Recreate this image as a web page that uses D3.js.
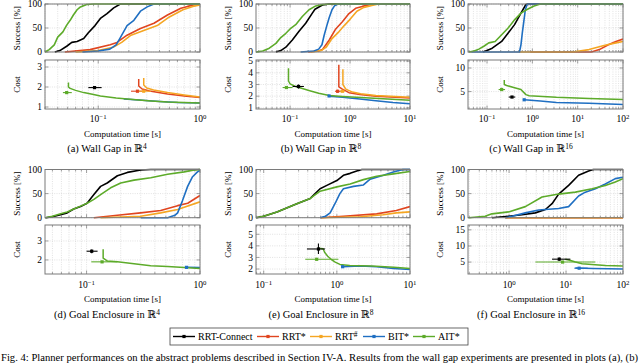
<!DOCTYPE html>
<html>
<head>
<meta charset="utf-8">
<script src="https://cdn.jsdelivr.net/npm/d3@7"></script>
<style>
  body { margin: 0; background: #fff; }
  svg { font-family: "Liberation Serif", "DejaVu Serif", serif; }
</style>
</head>
<body>
<svg id="fig" width="640" height="363"></svg>
<script>
// planners, in legend order
var planners = ["RRT-Connect", "RRT*", "RRT#", "BIT*", "AIT*"];
var colors = ["#000000", "#e0451f", "#f5a623", "#1f6fc2", "#5dab2a"];

// success curves [time s, success %], one list per planner (same order as planners)
var succA = [
  [[0.0375,0],[0.042,3],[0.049,12],[0.055,20],[0.062,22],[0.072,28],[0.08,40],[0.093,55],[0.105,70],[0.122,80],[0.142,92],[0.165,100],[1,100]],
  [[0.047,0],[0.083,5],[0.131,15],[0.153,20],[0.192,35],[0.26,49],[0.353,60],[0.479,77],[0.649,91],[0.755,95],[0.95,100],[1,100]],
  [[0.06,0],[0.1,3],[0.14,10],[0.17,20],[0.21,35],[0.28,45],[0.38,55],[0.5,73],[0.68,88],[0.85,95],[1,98]],
  [[0.07,0],[0.1,2],[0.13,6],[0.15,15],[0.165,30],[0.192,55],[0.224,66],[0.26,85],[0.303,94],[0.353,100],[1,100]],
  [[0.03,0],[0.033,5],[0.037,15],[0.04,31],[0.045,42],[0.049,56],[0.053,66],[0.057,77],[0.062,88],[0.066,93],[0.077,99],[0.09,100],[1,100]]
];
var succB = [
  [[0.058,0],[0.07,3],[0.085,10],[0.109,25],[0.141,43],[0.182,60],[0.235,81],[0.26,89],[0.346,98],[0.45,100],[10,100]],
  [[0.2,0],[0.3,2],[0.346,5],[0.45,25],[0.577,48],[0.745,63],[0.96,80],[1.24,91],[1.6,95],[2.35,100],[10,100]],
  [[0.22,0],[0.33,3],[0.4,10],[0.5,28],[0.65,42],[0.8,55],[1.0,68],[1.3,85],[1.7,93],[2.5,98],[3,100],[10,100]],
  [[0.15,0],[0.25,2],[0.3,6],[0.34,15],[0.37,35],[0.41,55],[0.45,72],[0.5,88],[0.55,96],[0.62,100],[10,100]],
  [[0.027,0],[0.035,2],[0.045,8],[0.058,18],[0.07,30],[0.085,39],[0.1,48],[0.124,57],[0.16,74],[0.207,88],[0.268,96],[0.346,99],[0.5,100],[10,100]]
];
var succC = [
  [[0.081,0],[0.1,3],[0.13,8],[0.21,22],[0.29,39],[0.405,57],[0.56,81],[0.72,99],[0.8,100],[100,100]],
  [[0.9,0],[20,0],[30,5],[47.6,15],[70,22],[100,27]],
  [[0.5,0],[7.8,0],[17.8,5],[40,14],[70,19],[100,22]],
  [[0.045,0],[0.52,0],[0.56,15],[0.6,40],[0.65,65],[0.7,88],[0.75,97],[0.8,100],[100,100]],
  [[0.04,0],[0.052,2],[0.066,6],[0.085,12],[0.109,19],[0.151,22],[0.21,36],[0.292,50],[0.405,67],[0.56,81],[0.78,89],[1.09,96],[1.5,100],[100,100]]
];
var succD = [
  [[0.0434,0],[0.05,2],[0.059,6],[0.0675,10],[0.077,18],[0.0885,23],[0.101,30],[0.116,48],[0.133,65],[0.152,72],[0.187,87],[0.229,94],[0.3,99],[0.368,100],[1,100]],
  [[0.116,0],[0.187,5],[0.3,10],[0.45,15],[0.635,25],[0.78,30],[1,46]],
  [[0.133,0],[0.3,3],[0.45,10],[0.635,17],[1,33]],
  [[0.3,0],[0.518,0],[0.6,5],[0.635,10],[0.7,35],[0.778,65],[0.86,85],[0.95,95],[1,98]],
  [[0.0434,0],[0.05,3],[0.059,8],[0.0675,12],[0.077,18],[0.0885,24],[0.101,30],[0.116,38],[0.133,48],[0.163,62],[0.2,72],[0.262,78],[0.368,83],[0.518,90],[0.726,95],[0.89,99],[1,100]]
];
var succE = [
  [[0.079,0],[0.1,3],[0.152,12],[0.284,29],[0.433,40],[0.59,60],[0.73,67],[1,77],[1.23,88],[1.52,92],[1.87,97],[2.2,100],[10,100]],
  [[0.6,0],[1.23,3],[3.5,8],[6.5,15],[10,23]],
  [[0.6,0],[2.1,2],[4.3,6],[6.5,10],[10,12]],
  [[0.59,0],[0.7,3],[0.81,10],[0.95,30],[1.1,50],[1.23,60],[1.69,65],[2.31,68],[2.85,80],[4.33,88],[5.93,95],[8,100],[10,100]],
  [[0.079,0],[0.1,3],[0.152,12],[0.284,29],[0.433,40],[0.59,55],[1,64],[1.52,70],[2.31,79],[3.5,86],[5.93,91],[10,96]]
];
var succF = [
  [[0.5,0],[0.98,3],[1.69,6],[2.89,10],[4.34,17],[5.68,29],[7.42,49],[11.1,67],[16.6,88],[24.9,97],[30,100],[100,100]],
  [[0.86,0],[100,0]],
  [[0.86,0],[100,0]],
  [[0.86,0],[1.13,3],[1.93,10],[3.31,16],[7.42,19],[11.1,23],[16.6,45],[21.8,53],[32.7,60],[48.9,70],[73.3,81],[100,84]],
  [[0.195,0],[0.38,3],[0.5,8],[0.98,12],[1.93,23],[3.79,43],[7.42,49],[14.6,53],[28.6,60],[48.9,67],[73.3,74],[100,81]]
];

// median cost curves [time s, cost]
var costA = [null,
  [[0.25,2.4],[0.25,2.05],[0.27,1.9],[0.32,1.8],[0.48,1.65],[0.7,1.55],[1,1.47]],
  [[0.28,2.45],[0.28,2.1],[0.3,1.95],[0.35,1.85],[0.48,1.72],[0.7,1.6],[1,1.5]],
  [[0.178,1.4],[0.25,1.35],[0.4,1.28],[0.6,1.23],[1,1.2]],
  [[0.051,2.22],[0.051,2.0],[0.053,1.93],[0.06,1.83],[0.072,1.72],[0.09,1.62],[0.105,1.55],[0.15,1.45],[0.22,1.37],[0.33,1.3],[0.48,1.25],[1,1.2]]
];
var costB = [null,
  [[0.65,4.7],[0.65,2.8],[0.745,2.6],[0.96,2.3],[1.45,2.15],[2.7,2.0],[10,1.85]],
  [[0.76,4.3],[0.76,3.0],[0.85,2.6],[1.1,2.35],[1.5,2.2],[2.7,2.05],[10,1.9]],
  [[0.447,2.0],[0.745,1.9],[1.45,1.75],[2.7,1.6],[5.2,1.45],[10,1.35]],
  [[0.094,4.4],[0.094,3.3],[0.1,3.05],[0.12,2.85],[0.16,2.65],[0.22,2.45],[0.3,2.25],[0.45,2.05],[0.75,1.97],[1.5,1.88],[3,1.8],[10,1.65]]
];
var costC = [null, null, null,
  [[0.66,3.26],[1.5,3.0],[3.4,2.7],[17.8,2.5],[100,2.25]],
  [[0.24,7.46],[0.24,6.5],[0.27,6.3],[0.405,5.8],[0.56,5.43],[0.72,4.35],[0.85,4.13],[3.4,3.77],[17.8,3.55],[100,3.33]]
];
var costD = [null, null, null,
  [[0.76,1.61],[1,1.6]],
  [[0.14,2.56],[0.14,2.09],[0.152,1.95],[0.187,1.9],[0.262,1.8],[0.368,1.7],[0.518,1.65],[0.726,1.6],[1,1.55]]
];
var costE = [null, null, null,
  [[1.2,2.2],[2.1,2.25],[3.5,2.2],[5.93,2.05],[10,1.95]],
  [[0.56,3.8],[0.65,3.75],[0.68,3.45],[0.75,3.1],[0.85,2.8],[0.95,2.6],[1.1,2.4],[1.5,2.3],[3,2.25],[6,2.15],[10,2.05]]
];
var costF = [null, null, null,
  [[14.6,3.15],[30,3.0],[100,2.85]],
  [[9.7,5.9],[12,5.5],[14.6,5.0],[19.2,4.5],[32.7,4.17],[48.9,3.9],[100,3.8]]
];

// initial solutions [time, time lo, time hi, cost, cost lo, cost hi]
var initA = [[0.092,0.08,0.108,1.97,1.9,2.05],[0.243,0.21,0.27,1.79,1.75,1.83],[0.28,0.25,0.33,1.79,1.75,1.83],null,[0.049,0.045,0.055,1.72,1.68,1.76]];
var initB = [[0.138,0.11,0.17,2.83,2.65,3.0],[0.62,0.56,0.7,2.42,2.3,2.55],[0.745,0.68,0.82,2.42,2.35,2.5],[0.447,0.43,0.47,2.02,1.95,2.1],[0.087,0.075,0.11,2.74,2.68,2.8]];
var initC = [[0.355,0.3,0.42,3.84,3.7,4.0],null,null,[0.66,0.64,0.69,3.26,3.1,3.4],[0.21,0.18,0.25,5.43,5.2,5.8]];
var initD = [[0.111,0.1,0.125,2.46,2.35,2.55],null,null,[0.76,0.74,0.79,1.61,1.57,1.65],[0.137,0.11,0.187,1.9,1.86,1.94]];
var initE = [[0.56,0.39,0.69,3.73,3.3,4.2],null,null,[1.2,1.15,1.25,2.2,2.15,2.25],[0.53,0.37,1.05,2.84,2.75,2.95]];
var initF = [[7.6,5.68,11.9,5.9,5.4,6.4],null,null,[17,14,24,3.1,3.0,3.2],[8.7,2.9,32.7,5.0,4.8,5.2]];

var captions = ["Wall Gap", "Wall Gap", "Wall Gap", "Goal Enclosure", "Goal Enclosure", "Goal Enclosure"];
var dims = ["4", "8", "16", "4", "8", "16"];

var panels = [
  { id: "a", succ: succA, cost: costA, init: initA, xdom: [0.03, 1],    cdom: [0.9, 3.35],  cticks: [1, 2, 3],       col: 0, row: 0 },
  { id: "b", succ: succB, cost: costB, init: initB, xdom: [0.027, 10],  cdom: [0.9, 5.1],   cticks: [1, 2, 3, 4, 5], col: 1, row: 0 },
  { id: "c", succ: succC, cost: costC, init: initC, xdom: [0.038, 100], cdom: [1.3, 11.7],  cticks: [5, 10],         col: 2, row: 0 },
  { id: "d", succ: succD, cost: costD, init: initD, xdom: [0.043, 1],   cdom: [1.26, 3.84], cticks: [2, 3],          col: 0, row: 1 },
  { id: "e", succ: succE, cost: costE, init: initE, xdom: [0.0785, 10], cdom: [1.57, 5.8],  cticks: [2, 3, 4, 5],    col: 1, row: 1 },
  { id: "f", succ: succF, cost: costF, init: initF, xdom: [0.19, 100],  cdom: [1.3, 16.5],  cticks: [5, 10, 15],     col: 2, row: 1 }
];

var cols = [
  { x0: 45, x1: 200, ylab: 17, cap: 107 },
  { x0: 256, x1: 410, ylab: 228, cap: 321 },
  { x0: 468, x1: 623, ylab: 440, cap: 531 }
];
var rows = [
  { s0: 4, s1: 52, c0: 60, c1: 109, tick: 122, xlab: 137, cap: 152 },
  { s0: 169.5, s1: 217.7, c0: 225, c1: 274, tick: 287.5, xlab: 301.5, cap: 318 }
];

var svg = d3.select("#fig");
var frameCol = "#7a7a7a";

function supText(sel, base, sup, size) {
  sel.append("tspan").text(base);
  sel.append("tspan").attr("dy", "-0.42em").attr("font-size", size).text(sup);
}

// frame, grid and ticks of one plot box
function drawBox(g, x, y, yTicks, top, bottom, withLabels, tickY) {
  var d = x.domain(), x0 = x.range()[0], x1 = x.range()[1];
  var major = [], minor = [];
  for (var e = Math.floor(Math.log10(d[0])); e <= Math.ceil(Math.log10(d[1])); e++) {
    for (var k = 1; k <= 9; k++) {
      var v = k * Math.pow(10, e);
      if (v >= d[0] * 0.999 && v <= d[1] * 1.001) (k === 1 ? major : minor).push(v);
    }
  }
  var grid = g.append("g").attr("stroke", "#cfcfcf").attr("stroke-width", 0.6).attr("stroke-dasharray", "1,1.3");
  grid.selectAll(null).data(major.concat(minor)).join("line")
    .attr("x1", x).attr("x2", x).attr("y1", top).attr("y2", bottom);
  grid.selectAll(null).data(yTicks).join("line")
    .attr("x1", x0).attr("x2", x1).attr("y1", y).attr("y2", y);

  var tk = g.append("g").attr("stroke", frameCol).attr("stroke-width", 0.7);
  [[major, 3.5], [minor, 2]].forEach(function (m) {
    tk.selectAll(null).data(m[0]).join("line")
      .attr("x1", x).attr("x2", x).attr("y1", bottom).attr("y2", bottom - m[1]);
    tk.selectAll(null).data(m[0]).join("line")
      .attr("x1", x).attr("x2", x).attr("y1", top).attr("y2", top + m[1]);
  });
  tk.selectAll(null).data(yTicks).join("line")
    .attr("x1", x0).attr("x2", x0 + 3.5).attr("y1", y).attr("y2", y);
  tk.selectAll(null).data(yTicks).join("line")
    .attr("x1", x1).attr("x2", x1 - 3.5).attr("y1", y).attr("y2", y);

  g.append("g").attr("font-size", 9.5).attr("text-anchor", "end")
    .selectAll(null).data(yTicks).join("text")
    .attr("x", x0 - 3).attr("y", function (v) { return y(v) + 3.3; })
    .text(function (v) { return v; });

  if (withLabels) {
    major.forEach(function (v) {
      var e = Math.round(Math.log10(v));
      var t = g.append("text").attr("font-size", 9.5).attr("text-anchor", "middle")
        .attr("x", x(v)).attr("y", tickY);
      supText(t, "10", e < 0 ? "\u2212" + (-e) : String(e), 6.8);
    });
  }
  return [x0, x1];
}

function drawFrame(g, x0, x1, top, bottom) {
  g.append("rect").attr("x", x0).attr("y", top).attr("width", x1 - x0).attr("height", bottom - top)
    .attr("fill", "none").attr("stroke", frameCol).attr("stroke-width", 1);
}

panels.forEach(function (p, pi) {
  var col = cols[p.col], row = rows[p.row];
  var g = svg.append("g");
  var x = d3.scaleLog().domain(p.xdom).range([col.x0, col.x1]);
  var ys = d3.scaleLinear().domain([0, 100]).range([row.s1, row.s0]);
  var yc = d3.scaleLinear().domain(p.cdom).range([row.c1, row.c0]);

  drawBox(g, x, ys, [0, 50, 100], row.s0, row.s1, false);
  drawBox(g, x, yc, p.cticks, row.c0, row.c1, true, row.tick);

  // clip regions
  var cs = "clip-s-" + p.id, cc = "clip-c-" + p.id;
  var defs = g.append("defs");
  defs.append("clipPath").attr("id", cs).append("rect")
    .attr("x", col.x0).attr("y", row.s0 - 1.5).attr("width", col.x1 - col.x0).attr("height", row.s1 - row.s0 + 3);
  defs.append("clipPath").attr("id", cc).append("rect")
    .attr("x", col.x0).attr("y", row.c0).attr("width", col.x1 - col.x0).attr("height", row.c1 - row.c0);

  var lineS = d3.line().x(function (d) { return x(d[0]); }).y(function (d) { return ys(d[1]); });
  var lineC = d3.line().x(function (d) { return x(d[0]); }).y(function (d) { return yc(d[1]); });

  g.append("g").attr("clip-path", "url(#" + cs + ")")
    .selectAll("path").data(p.succ).join("path")
    .attr("d", lineS).attr("fill", "none")
    .attr("stroke", function (d, i) { return colors[i]; })
    .attr("stroke-width", 1.6).attr("stroke-linejoin", "round");

  var cg = g.append("g").attr("clip-path", "url(#" + cc + ")");
  p.cost.forEach(function (s, i) {
    if (!s) return;
    cg.append("path").attr("d", lineC(s)).attr("fill", "none")
      .attr("stroke", colors[i]).attr("stroke-width", 1.5).attr("stroke-linejoin", "round");
  });
  p.init.forEach(function (m, i) {
    if (!m) return;
    var mg = cg.append("g").attr("stroke", colors[i]).attr("stroke-width", 1.1);
    mg.append("line").attr("x1", x(m[1])).attr("x2", x(m[2])).attr("y1", yc(m[3])).attr("y2", yc(m[3]));
    mg.append("line").attr("x1", x(m[0])).attr("x2", x(m[0])).attr("y1", yc(m[4])).attr("y2", yc(m[5]));
    cg.append("rect").attr("x", x(m[0]) - 1.6).attr("y", yc(m[3]) - 1.6).attr("width", 3.2).attr("height", 3.2)
      .attr("fill", colors[i]);
  });

  drawFrame(g, col.x0, col.x1, row.s0, row.s1);
  drawFrame(g, col.x0, col.x1, row.c0, row.c1);

  // axis labels
  g.append("text").attr("font-size", 9).attr("text-anchor", "middle")
    .attr("transform", "translate(" + (col.ylab + 3) + "," + ((row.s0 + row.s1) / 2) + ") rotate(-90)")
    .text("Success [%]");
  g.append("text").attr("font-size", 9).attr("text-anchor", "middle")
    .attr("transform", "translate(" + (col.ylab + 3) + "," + ((row.c0 + row.c1) / 2) + ") rotate(-90)")
    .text("Cost");
  g.append("text").attr("font-size", 9).attr("text-anchor", "middle")
    .attr("x", (col.x0 + col.x1) / 2).attr("y", row.xlab).text("Computation time [s]");

  var cap = g.append("text").attr("font-size", 10.5).attr("text-anchor", "middle")
    .attr("x", col.cap).attr("y", row.cap);
  supText(cap, "(" + p.id + ") " + captions[pi] + " in \u211D", dims[pi], 7.5);
});

// legend
var lg = svg.append("g");
lg.append("rect").attr("x", 170).attr("y", 328).attr("width", 298).attr("height", 17)
  .attr("fill", "#fff").attr("stroke", "#444").attr("stroke-width", 0.8);
var legX = [173, 257, 310, 363, 413];
planners.forEach(function (name, i) {
  var lx = legX[i];
  lg.append("line").attr("x1", lx).attr("x2", lx + 22).attr("y1", 336.5).attr("y2", 336.5)
    .attr("stroke", colors[i]).attr("stroke-width", 1.4);
  lg.append("rect").attr("x", lx + 9.4).attr("y", 334.9).attr("width", 3.2).attr("height", 3.2).attr("fill", colors[i]);
  var t = lg.append("text").attr("font-size", 10).attr("x", lx + 25).attr("y", 340);
  if (name === "RRT#") supText(t, "RRT", "#", 7.5);
  else t.text(name);
});

// figure caption (cut off by the frame bottom)
svg.append("text").attr("font-size", 10).attr("x", 1).attr("y", 361)
  .attr("textLength", 637).attr("lengthAdjust", "spacingAndGlyphs")
  .text("Fig. 4: Planner performances on the abstract problems described in Section IV-A. Results from the wall gap experiments are presented in plots (a), (b)");
</script>
</body>
</html>
